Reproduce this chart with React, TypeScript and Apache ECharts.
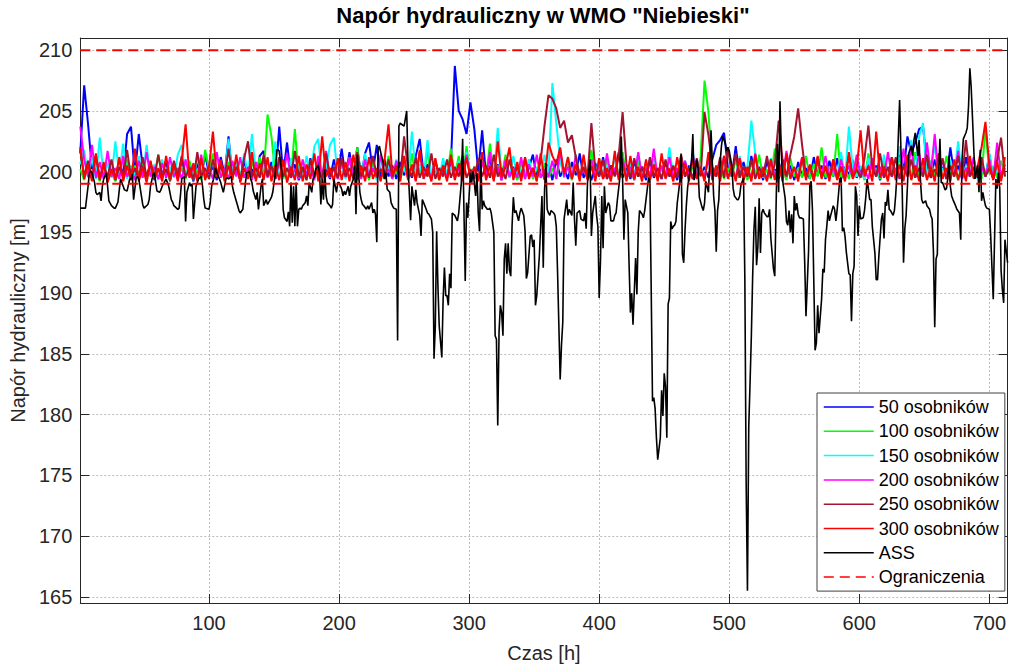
import React, { useEffect, useRef } from "react";
import * as echarts from "echarts";

const TITLE = 'Napór hydrauliczny w WMO "Niebieski"';
const X_NAME = "Czas [h]";
const Y_NAME = "Napór hydrauliczny [m]";
const X_MIN = 1;
const X_MAX = 714;
const Y_MIN = 164.5;
const Y_MAX = 211;
const SAMPLE_START = 1;
const SAMPLE_STEP = 3;

const SERIES_NAMES = ["50 osobników", "100 osobników", "150 osobników", "200 osobników", "250 osobników", "300 osobników", "ASS"];
const LIMIT_NAME = "Ograniczenia";
const LIMIT_UPPER = 210;
const LIMIT_LOWER = 199;

const S50 = [
  201.5, 207.1, 203.9, 200.2, 201.3, 199.4, 200.6, 199.2, 200.1, 199.3, 201.0, 199.6, 203.1, 203.7, 199.8, 203.1, 200.4, 199.5, 200.8, 199.3, 200.2, 199.7, 200.9, 199.2,
  200.5, 199.4, 201.1, 199.6, 200.3, 199.2, 200.7, 199.5, 201.4, 199.8, 200.4, 199.3, 201.2, 199.7, 202.9, 199.5, 200.6, 199.3, 200.9, 199.6, 200.2, 199.4, 201.3, 201.7,
  199.6, 200.8, 199.4, 203.7, 199.8, 202.4, 199.5, 200.6, 199.3, 200.2, 199.7, 201.1, 199.5, 200.8, 199.6, 200.3, 199.4, 201.0, 199.7, 201.9, 199.5, 201.6, 199.8, 202.0,
  199.6, 201.5, 202.4, 200.0, 202.2, 199.5, 201.0, 199.6, 200.5, 199.4, 200.8, 199.7, 200.3, 199.5, 201.3, 202.7, 199.8, 200.6, 199.4, 200.9, 199.6, 200.2, 199.5, 200.7,
  208.7, 205.0, 204.3, 203.1, 205.7, 203.5, 200.0, 203.4, 199.7, 201.1, 199.5, 200.6, 199.3, 201.2, 199.6, 200.4, 199.4, 200.9, 199.7, 200.3, 201.4, 199.5, 200.2, 199.4,
  200.6, 199.3, 201.0, 199.6, 200.3, 199.4, 200.8, 199.7, 201.5, 199.5, 200.2, 199.3, 200.7, 199.6, 201.2, 199.4, 200.5, 199.7, 201.6, 199.5, 200.3, 199.4, 200.9, 199.6,
  200.4, 199.3, 201.0, 199.5, 200.2, 199.4, 200.8, 199.6, 200.3, 199.3, 201.2, 199.6, 200.5, 199.4, 200.9, 199.7, 200.4, 199.5, 201.0, 202.2, 202.6, 203.2, 200.3, 199.6,
  202.1, 199.5, 200.8, 199.4, 201.3, 199.6, 200.4, 199.3, 200.9, 199.7, 200.2, 199.4, 201.0, 199.6, 200.5, 199.3, 200.8, 199.6, 200.3, 199.4, 201.2, 199.7, 200.5, 199.4,
  200.9, 199.6, 201.1, 199.4, 200.4, 199.7, 200.8, 199.5, 200.2, 199.4, 201.0, 199.6, 200.5, 199.3, 200.7, 199.6, 201.2, 199.5, 201.8, 200.0, 202.9, 201.5, 202.4, 203.5,
  203.7, 200.6, 199.5, 201.0, 199.6, 200.4, 199.4, 202.0, 199.7, 200.5, 199.4, 201.2, 199.6, 200.3, 199.5, 200.8, 199.6, 201.4, 199.5, 200.2, 199.4, 200.6,
];

const S100 = [
  200.2, 199.3, 200.8, 199.5, 200.1, 199.2, 200.6, 199.4, 199.9, 199.2, 200.4, 199.6, 201.0, 199.3, 200.5, 199.8, 200.9, 199.4, 200.3, 199.6, 201.4, 199.5, 200.2, 199.3,
  200.7, 199.5, 200.3, 199.4, 200.9, 199.6, 200.2, 199.3, 201.8, 200.2, 201.5, 199.6, 200.4, 199.3, 200.8, 199.5, 201.1, 199.6, 200.3, 199.4, 200.9, 199.6, 201.2, 199.5,
  204.7, 202.9, 199.7, 200.6, 199.4, 200.2, 199.6, 203.5, 199.5, 200.4, 199.3, 200.8, 199.6, 200.2, 199.4, 201.0, 199.6, 200.3, 199.4, 200.7, 199.5, 201.2, 199.6, 202.0,
  199.5, 200.4, 199.3, 200.9, 199.6, 200.2, 199.4, 201.3, 199.5, 200.1, 199.3, 200.6, 199.6, 201.5, 199.4, 200.3, 199.6, 201.7, 199.5, 200.2, 199.3, 200.8, 199.6, 201.9,
  199.6, 201.3, 199.5, 202.1, 199.6, 200.4, 199.3, 200.9, 199.6, 202.3, 199.4, 200.5, 199.6, 201.4, 199.5, 200.2, 199.3, 200.8, 199.6, 201.0, 199.4, 200.3, 199.6, 200.7,
  199.5, 200.3, 199.4, 201.2, 199.6, 200.6, 199.3, 201.4, 199.6, 200.2, 199.4, 201.8, 199.5, 200.4, 199.6, 201.1, 199.4, 200.3, 199.6, 201.6, 199.5, 200.2, 199.3, 200.9,
  199.6, 200.4, 199.4, 201.0, 199.6, 200.3, 199.5, 201.3, 199.6, 200.2, 199.4, 200.8, 199.6, 200.4, 199.5, 201.2, 207.5, 204.9, 200.1, 199.6, 200.7, 199.4, 200.3, 199.6,
  201.0, 199.5, 200.4, 199.3, 200.8, 199.6, 201.4, 199.5, 200.2, 199.4, 201.9, 199.6, 200.5, 199.3, 201.1, 199.6, 200.3, 199.5, 201.3, 199.4, 200.6, 199.6, 202.0, 199.5,
  200.4, 199.6, 203.1, 199.5, 200.3, 199.4, 201.0, 199.6, 200.4, 199.3, 201.5, 199.6, 200.2, 199.4, 200.9, 199.6, 200.3, 199.5, 201.2, 199.6, 200.5, 199.4, 201.6, 199.6,
  200.3, 199.5, 200.9, 199.6, 200.2, 199.4, 201.3, 199.6, 200.5, 199.3, 200.8, 199.6, 201.0, 199.5, 200.3, 199.4, 203.7, 199.8, 200.4, 199.5, 200.9, 199.6,
];

const S150 = [
  200.6, 201.8, 199.5, 201.2, 199.4, 202.8, 199.6, 200.7, 199.5, 202.5, 199.8, 202.3, 199.4, 200.5, 199.6, 201.3, 199.5, 202.2, 199.7, 200.6, 199.3, 201.0, 199.6, 200.4,
  199.5, 201.4, 202.2, 199.6, 200.5, 199.3, 201.2, 199.6, 200.3, 199.4, 201.0, 199.7, 200.4, 199.5, 202.7, 199.6, 200.8, 199.4, 201.5, 199.6, 203.1, 199.8, 200.6, 199.4,
  200.9, 199.5, 202.5, 199.6, 200.4, 199.3, 201.1, 199.6, 200.5, 199.4, 201.3, 199.6, 202.1, 202.7, 199.5, 200.3, 202.2, 202.8, 199.6, 200.6, 199.4, 201.0, 199.6, 200.3,
  199.5, 201.5, 199.6, 200.4, 199.3, 201.2, 199.6, 200.5, 199.4, 201.0, 199.6, 200.3, 199.5, 203.3, 199.8, 200.6, 199.4, 202.6, 199.6, 200.3, 199.5, 201.1, 199.6, 200.4,
  199.4, 200.9, 199.6, 201.6, 199.5, 200.4, 199.3, 201.2, 199.6, 200.5, 199.4, 203.6, 199.8, 200.6, 199.5, 201.3, 199.6, 200.2, 199.4, 201.0, 199.6, 200.4, 199.5, 201.4,
  199.6, 207.3, 204.0, 200.9, 199.5, 201.2, 199.6, 200.4, 199.4, 201.0, 199.6, 200.3, 199.5, 201.1, 199.6, 200.5, 199.4, 201.3, 199.6, 200.2, 199.5, 200.8, 199.6, 201.5,
  199.5, 200.3, 199.4, 201.0, 199.6, 200.4, 199.5, 202.0, 199.6, 200.3, 199.4, 200.9, 199.6, 201.6, 199.5, 200.4, 199.6, 201.2, 199.4, 200.5, 199.6, 201.0, 199.5, 200.3,
  199.6, 201.3, 199.5, 200.4, 204.2, 201.5, 199.6, 200.3, 199.4, 201.1, 199.6, 200.5, 199.5, 201.4, 199.6, 200.2, 199.4, 200.9, 199.6, 200.4, 199.5, 201.2, 199.6, 200.3,
  199.5, 200.9, 199.6, 201.6, 199.4, 203.7, 200.2, 199.6, 200.5, 199.4, 201.1, 199.6, 200.3, 199.5, 201.4, 199.6, 200.4, 199.5, 202.1, 199.6, 200.5, 202.6, 199.6, 202.9,
  204.0, 199.7, 200.5, 202.1, 199.6, 200.3, 199.5, 201.0, 199.6, 202.5, 199.5, 200.4, 199.6, 201.1, 199.4, 200.3, 199.6, 201.5, 199.5, 200.2, 199.6, 200.8,
];

const S200 = [
  203.7, 201.0, 199.6, 202.2, 199.5, 200.8, 199.4, 201.7, 199.6, 200.3, 199.4, 201.3, 199.6, 200.2, 199.3, 200.9, 199.5, 201.6, 199.6, 200.4, 199.4, 200.7, 199.5, 201.2,
  199.6, 200.3, 199.4, 201.0, 199.5, 200.4, 199.3, 201.4, 199.6, 200.2, 199.4, 201.6, 199.5, 200.3, 199.4, 200.9, 199.6, 201.2, 199.5, 200.4, 199.3, 200.8, 199.6, 201.1,
  199.5, 200.3, 199.4, 200.9, 199.6, 201.5, 199.5, 200.2, 199.4, 201.0, 199.6, 200.4, 199.3, 201.3, 199.6, 201.7, 199.5, 200.3, 199.4, 200.8, 199.6, 201.2, 199.5, 200.4,
  199.4, 201.0, 199.6, 200.3, 199.5, 201.4, 199.6, 200.2, 199.4, 200.9, 199.6, 201.1, 199.5, 200.4, 199.3, 201.6, 199.6, 200.3, 199.4, 201.0, 199.6, 200.5, 199.4, 201.2,
  199.5, 200.3, 199.6, 201.4, 199.5, 200.2, 199.4, 200.8, 199.6, 201.6, 199.5, 200.4, 199.3, 201.0, 199.6, 200.3, 199.5, 201.2, 199.4, 200.6, 199.6, 201.4, 199.5, 200.2,
  199.6, 200.9, 199.4, 201.8, 199.6, 200.4, 199.5, 201.3, 199.6, 200.2, 199.4, 201.0, 199.6, 200.5, 199.4, 201.5, 199.6, 200.3, 199.5, 201.1, 199.6, 200.4, 199.3, 201.6,
  199.5, 200.3, 199.6, 201.9, 199.4, 200.5, 199.6, 201.2, 199.5, 200.3, 199.4, 200.9, 199.6, 201.4, 199.5, 200.2, 199.6, 201.0, 199.4, 200.4, 199.6, 201.3, 199.5, 200.2,
  199.4, 201.1, 199.6, 200.3, 199.5, 201.5, 199.6, 200.4, 199.3, 201.0, 199.6, 200.5, 199.4, 201.7, 199.6, 200.3, 199.5, 201.2, 199.6, 200.4, 199.4, 200.9, 199.6, 201.3,
  199.5, 200.3, 199.4, 201.0, 199.6, 200.5, 199.5, 201.4, 199.6, 200.2, 199.4, 201.1, 199.6, 200.4, 199.5, 201.6, 199.6, 200.3, 199.4, 201.9, 199.6, 202.2, 199.5, 201.5,
  199.6, 202.4, 199.8, 203.1, 199.6, 201.0, 199.5, 200.4, 199.6, 201.7, 199.4, 200.3, 199.6, 201.2, 199.5, 200.4, 199.6, 201.0, 199.4, 202.4, 199.6, 200.3,
];

const S250 = [
  202.0, 199.6, 200.9, 199.5, 201.3, 199.4, 200.5, 199.6, 201.0, 199.3, 200.4, 199.6, 201.8, 199.5, 200.3, 199.4, 201.2, 199.6, 200.6, 199.5, 201.4, 199.6, 200.2, 199.4,
  200.9, 199.6, 201.3, 199.5, 200.4, 199.3, 201.6, 199.6, 200.3, 199.4, 201.0, 199.6, 200.5, 199.5, 201.9, 199.6, 200.4, 199.3, 201.1, 202.5, 199.6, 200.3, 199.5, 201.4,
  199.6, 200.5, 199.4, 201.2, 199.6, 200.3, 199.5, 201.7, 199.6, 200.4, 199.3, 201.0, 199.6, 200.2, 199.4, 201.5, 199.6, 200.4, 199.5, 201.1, 199.6, 200.3, 199.4, 201.6,
  199.6, 200.4, 199.5, 201.3, 199.6, 200.2, 199.4, 201.0, 199.6, 200.5, 199.5, 202.9, 200.3, 199.6, 201.2, 199.5, 200.4, 199.6, 201.5, 199.4, 200.3, 199.6, 201.0, 199.5,
  200.4, 199.6, 201.3, 199.5, 200.2, 199.4, 201.1, 199.6, 200.5, 199.5, 201.4, 199.6, 200.3, 199.4, 201.0, 199.6, 200.4, 199.5, 201.2, 199.6, 200.3, 199.4, 200.9, 203.8,
  206.3, 206.0, 205.2, 203.6, 204.2, 202.4, 203.0, 201.2, 199.6, 200.4, 199.5, 204.0, 200.2, 199.6, 201.0, 199.4, 200.5, 199.6, 201.3, 204.9, 200.6, 199.5, 201.1, 199.6,
  200.4, 199.5, 201.2, 199.6, 200.3, 199.4, 201.0, 199.6, 200.5, 199.5, 201.4, 199.6, 200.3, 199.4, 201.1, 199.6, 204.9, 203.0, 200.4, 199.6, 201.2, 199.5, 202.0, 199.6,
  201.5, 199.5, 200.4, 199.6, 201.0, 199.4, 200.3, 199.6, 201.3, 199.5, 200.6, 204.2, 200.9, 199.6, 201.4, 202.9, 205.2, 202.2, 199.6, 200.5, 199.4, 201.2, 199.6, 200.3,
  199.5, 201.0, 199.6, 200.4, 199.4, 201.3, 199.6, 200.2, 199.5, 201.1, 203.8, 200.3, 199.6, 201.5, 199.5, 200.4, 199.6, 201.2, 199.4, 200.5, 199.6, 201.0, 199.5, 200.3,
  199.6, 201.4, 199.5, 200.2, 199.6, 201.1, 199.4, 200.5, 199.6, 201.3, 199.5, 202.6, 199.6, 200.4, 199.5, 201.2, 199.6, 200.3, 199.4, 201.0, 202.8, 199.6,
];

const S300 = [
  201.8, 199.4, 200.6, 199.2, 201.5, 199.3, 200.8, 199.1, 200.2, 199.4, 201.2, 199.2, 200.5, 199.3, 201.9, 199.2, 200.4, 199.1, 200.9, 199.4, 200.3, 199.2, 201.3, 199.3,
  200.6, 199.2, 200.9, 203.9, 199.5, 200.7, 199.2, 201.1, 199.3, 200.4, 203.3, 199.6, 201.0, 199.2, 200.5, 199.3, 201.4, 199.1, 200.3, 199.4, 201.6, 199.2, 200.7, 199.3,
  201.2, 199.2, 200.5, 199.3, 201.0, 199.1, 200.4, 199.3, 201.3, 199.2, 200.6, 199.4, 201.5, 199.2, 202.9, 199.6, 200.3, 199.2, 201.1, 199.3, 200.8, 199.2, 201.4, 199.3,
  200.5, 199.2, 201.2, 199.4, 200.3, 199.2, 201.0, 203.9, 199.7, 200.4, 199.2, 201.3, 199.3, 200.6, 199.2, 201.8, 199.4, 200.3, 199.2, 201.1, 199.3, 200.5, 199.2, 201.4,
  199.3, 200.7, 199.2, 201.2, 199.4, 200.4, 199.2, 201.6, 199.3, 200.5, 199.2, 202.5, 199.5, 200.4, 202.0, 199.3, 200.8, 199.2, 201.1, 199.4, 200.3, 199.2, 201.5, 199.3,
  202.4, 201.3, 200.6, 202.0, 199.8, 201.2, 199.4, 200.6, 199.2, 201.4, 199.3, 200.5, 199.2, 201.1, 199.4, 200.3, 199.2, 201.7, 199.3, 200.8, 199.2, 201.3, 199.4, 200.4,
  199.2, 201.0, 199.3, 200.6, 199.2, 201.5, 199.4, 200.3, 199.2, 201.2, 199.3, 200.7, 199.2, 201.0, 199.4, 200.4, 199.2, 201.6, 199.3, 200.5, 199.2, 201.3, 199.4, 200.6,
  199.2, 201.1, 199.3, 200.4, 199.2, 201.4, 199.4, 200.3, 199.2, 201.0, 199.3, 200.8, 199.2, 201.5, 199.4, 200.4, 199.2, 201.2, 199.3, 200.6, 199.2, 201.3, 199.4, 200.5,
  199.2, 201.0, 199.3, 200.4, 199.2, 201.6, 199.4, 200.3, 203.4, 199.6, 200.5, 199.2, 203.3, 199.5, 200.4, 199.2, 201.2, 199.3, 200.6, 199.2, 201.4, 199.3, 200.5, 199.2,
  201.1, 199.3, 200.4, 199.2, 201.5, 199.4, 200.3, 199.2, 201.0, 199.3, 200.6, 199.2, 201.3, 199.4, 200.4, 202.0, 204.1, 200.5, 199.3, 200.8, 199.2, 201.2,
];

const ASS_HOURS = [
  1, 5, 7, 8, 9, 10, 12, 13, 14, 16, 17, 18, 19, 21, 22, 23, 25, 27, 28, 30, 31, 32, 34, 35, 37, 39, 40, 41, 42, 44, 45, 46, 48, 49, 50, 53, 54, 55, 57, 58, 59, 60,
  62, 63, 64, 65, 67, 68, 69, 71, 72, 73, 76, 77, 78, 79, 81, 82, 83, 85, 86, 87, 88, 90, 91, 92, 94, 95, 96, 97, 100, 101, 102, 104, 105, 106, 108, 109, 111, 113,
  114, 115, 117, 118, 119, 122, 123, 124, 126, 127, 128, 129, 131, 132, 133, 134, 136, 137, 138, 140, 141, 142,
  143, 144, 145, 147, 148, 149, 151, 152, 153, 154, 156, 157, 158, 160, 161, 162, 163, 164, 165, 166, 167, 168, 169, 170, 171, 172, 174, 175, 176, 177, 179, 180,
  181, 182, 184, 185, 186, 187, 188, 189, 190, 191, 193, 194, 195, 196, 198, 199, 200, 202, 203, 204, 205, 207, 208, 209, 211, 212, 213, 214, 216, 217, 218, 219,
  221, 222, 223, 225, 226, 227, 228, 229, 230, 231, 232, 234, 235, 236, 237, 239, 240, 241, 242, 244, 245, 246, 247, 248, 250, 252, 253, 255, 256, 258, 259, 260,
  262, 263, 264, 265, 267, 268, 269, 271, 272, 273, 274, 275, 276, 277, 279, 280, 281, 282, 283,
  284, 285, 286, 287, 289, 291, 292, 294, 295, 297, 298, 299, 301, 302, 303, 305, 306, 307, 308, 309, 310, 311, 312, 314, 315, 316, 317, 319, 320, 321, 322, 323,
  324, 325, 326, 327, 328, 329, 330, 331, 332, 333, 334, 335, 336, 338, 339, 340, 342, 343, 344, 345, 347, 348, 349, 350, 351, 352, 354, 355, 356, 357, 358, 359,
  360, 361, 362, 363, 365, 366, 367, 368, 370, 371, 372, 373, 375, 376, 377, 379, 380, 381, 382, 383, 385, 386, 388, 389, 390, 391, 393, 394, 395, 397, 398, 399,
  400, 401, 402, 403, 404, 405, 407, 408, 409, 411, 412, 413, 414, 416, 417, 418, 419, 420, 422, 423, 424, 425, 426,
  428, 429, 430, 431, 433, 434, 435, 437, 438, 439, 440, 441, 442, 443, 444, 445, 447, 448, 449, 450, 451, 452, 453, 454, 455, 456, 457, 458, 459, 460, 462, 463,
  464, 465, 466, 467, 468, 470, 471, 472, 473, 474, 475, 476, 477, 479, 480, 481, 482, 484, 485, 486, 488, 489, 490, 491, 492, 493, 494, 495, 497, 498, 499, 500,
  502, 503, 504, 506, 507, 508, 509, 511, 512, 513, 514, 515, 516, 517, 518, 519, 520, 521, 522, 523, 524, 525, 526, 527, 529, 530, 531, 532, 534, 535, 536, 537,
  538, 539, 540, 541, 543, 544, 545, 546, 547, 548, 549, 550, 551, 552, 553, 554, 555, 557, 558, 559, 561, 562, 563, 564, 566, 567, 568, 569,
  571, 572, 573, 574, 575, 576, 577, 578, 580, 581, 582, 583, 585, 586, 587, 588, 589, 590, 592, 593, 594, 595, 596, 597, 598, 599, 600, 601, 603, 604, 605, 606,
  608, 609, 610, 612, 613, 614, 615, 617, 618, 619, 620, 621, 622, 623, 624, 626, 627, 628, 629, 630, 631, 632, 633, 634, 635, 636, 637, 638, 640, 641, 642, 643,
  645, 646, 647, 648, 649, 651, 652, 654, 655, 656, 657, 658, 659, 660, 661, 662, 663, 664, 666, 667, 668, 669, 670, 671, 672, 673, 674, 675, 677, 678, 679, 680,
  682, 683, 684, 685, 686, 687, 688, 689, 691, 692, 693, 694, 695, 696, 697, 698, 700, 701, 702, 703, 705, 706, 707, 708, 709, 710, 711, 712, 714,
];

const ASS_VALUES = [
  197.0, 197.0, 198.8, 199.9, 200.05, 199.9, 199.1, 198.3, 198.1, 198.3, 197.6, 198.8, 199.4, 199.9, 198.8, 197.6, 197.2, 197.0, 197.0, 197.5, 198.5, 199.4, 198.8, 198.5, 198.4, 199.4, 199.4, 199.8, 197.7, 199.5, 199.6, 199.4, 198.0, 197.3, 197.0, 197.3, 197.7, 198.8, 199.8, 199.9, 199.1, 198.4,
  198.3, 198.5, 198.8, 199.0, 199.4, 199.1, 198.8, 197.7, 197.5, 197.2, 196.9, 197.0, 198.0, 199.4, 199.6, 195.9, 198.3, 199.1, 198.8, 199.0, 196.1, 198.8, 199.1, 199.4, 199.6, 198.8, 197.7, 197.0, 196.9, 197.5, 198.8, 199.6, 200.3, 199.9, 199.4, 199.1, 198.3, 199.4,
  199.5, 199.4, 199.6, 198.8, 198.3, 197.2, 196.8, 196.6, 196.9, 198.0, 199.1, 199.9, 200.05, 199.4, 199.1, 198.4, 197.7, 198.3, 196.9, 198.8, 199.4, 197.2,
  197.45, 197.7, 197.3, 197.7, 197.9, 198.3, 199.9, 201.8, 201.8, 201.7, 199.9, 196.9, 196.2, 195.9, 196.7, 195.5, 199.1, 195.8, 198.8, 195.5, 199.1, 195.5, 196.9, 197.0, 196.9, 197.2, 197.45, 198.0, 197.2, 199.1, 198.3, 199.4,
  199.6, 200.2, 200.5, 199.9, 197.3, 199.4, 197.7, 200.2, 198.0, 197.45, 197.2, 197.0, 197.3, 199.4, 198.3, 199.1, 199.1, 198.55, 198.0, 198.4, 198.1, 198.8, 198.0, 198.8, 199.4, 200.5, 196.5, 201.4, 198.3, 197.7, 197.3, 197.2,
  196.9, 197.2, 196.9, 197.45, 196.6, 196.9, 196.5, 194.2, 201.8, 202.1, 201.6, 200.7, 199.4, 199.9, 198.55, 198.3, 197.45, 197.2, 197.0, 196.9, 186.1, 203.75, 204.0, 203.9, 203.75, 205.0, 200.5, 196.0, 198.8, 197.2, 198.5, 197.45,
  196.4, 194.7, 197.7, 197.45, 196.9, 196.6, 196.5, 196.1, 195.0, 184.6, 187.3, 195.1, 190.6, 187.3, 184.7, 189.5, 192.1, 189.8, 189.8,
  189.0, 191.6, 190.4, 196.6, 196.4, 195.95, 196.6, 199.1, 202.7, 191.0, 197.45, 196.2, 199.9, 199.1, 200.05, 198.0, 199.9, 196.6, 195.1, 201.0, 196.9, 197.6, 197.2, 196.9, 196.9, 197.0, 196.6, 195.0, 186.5, 186.2, 179.1, 186.8,
  189.0, 188.4, 186.5, 192.8, 194.1, 191.6, 194.1, 191.9, 191.4, 195.5, 197.9, 196.6, 196.8, 195.95, 196.6, 197.0, 196.4, 195.1, 191.2, 191.7, 194.7, 194.8, 193.8, 194.4, 189.0, 189.8, 193.1, 195.6, 198.0, 192.1, 198.5, 200.7,
  196.9, 196.6, 196.4, 196.8, 196.6, 196.4, 195.5, 191.7, 182.9, 185.7, 187.6, 196.1, 197.7, 196.4, 196.9, 196.4, 199.1, 196.1, 193.9, 196.6, 196.8, 196.1, 195.95, 196.6, 195.3, 199.1, 201.0, 194.7, 196.6, 198.0, 196.4, 195.5,
  189.6, 192.7, 198.0, 193.7, 198.8, 196.6, 197.45, 197.2, 195.95, 195.95, 196.4, 196.6, 197.7, 199.6, 202.9, 199.4, 194.4, 197.7, 196.6, 192.3, 188.4, 190.0, 187.4,
  192.9, 189.9, 195.0, 196.8, 196.5, 196.2, 196.8, 198.6, 199.5, 199.2, 190.2, 181.1, 181.4, 180.5, 178.1, 176.3, 178.1, 182.0, 179.9, 183.4, 182.3, 178.1, 189.1, 189.6, 195.9, 195.3, 195.5, 195.6, 195.9, 197.4, 199.2, 201.5,
  193.2, 192.5, 195.2, 197.2, 198.7, 200.2, 200.8, 203.1, 199.3, 200.0, 201.0, 200.3, 197.9, 197.1, 196.8, 197.4, 199.2, 198.3, 200.8, 203.4, 198.0, 196.8, 193.4, 196.8, 197.7, 200.8, 202.1, 202.9, 202.3, 201.7, 202.0, 201.7,
  200.5, 198.6, 198.0, 197.7, 197.7, 198.0, 198.9, 199.5, 191.1, 174.4, 165.5, 179.0, 182.6, 186.5, 191.4, 195.3, 197.1, 192.3, 193.8, 197.8, 193.3, 196.6, 196.9, 196.6, 196.3, 196.3, 196.9, 194.5, 192.0, 191.4, 197.1, 202.3,
  198.3, 205.8, 201.7, 199.3, 197.8, 195.9, 195.6, 196.8, 195.0, 196.5, 194.1, 198.0, 196.8, 197.4, 196.5, 196.2, 196.2, 196.1, 192.6, 188.1, 193.5, 199.0, 199.2, 196.8, 185.3, 185.9, 189.0, 186.7,
  189.5, 192.0, 191.7, 194.4, 195.5, 196.8, 195.95, 196.4, 197.2, 196.9, 195.95, 196.9, 199.4, 199.5, 195.1, 195.4, 194.7, 193.4, 191.6, 191.5, 187.7, 191.6, 192.2, 198.8, 198.0, 194.7, 197.2, 196.1, 196.2, 196.8, 197.9, 199.4,
  197.7, 197.7, 195.5, 193.3, 191.1, 191.1, 193.0, 196.1, 196.6, 194.5, 197.5, 197.2, 198.5, 196.9, 196.8, 196.4, 196.8, 198.1, 199.9, 202.9, 205.9, 201.8, 198.5, 192.5, 195.3, 196.4, 198.8, 201.5, 202.1, 201.3, 202.6, 203.2,
  201.3, 202.6, 199.3, 197.7, 197.4, 197.6, 197.2, 196.9, 196.4, 196.1, 193.4, 187.2, 192.8, 193.2, 199.9, 202.7, 199.1, 199.1, 198.5, 198.6, 199.4, 201.3, 198.8, 198.0, 197.7, 197.45, 197.2, 196.9, 196.6, 194.4, 201.0, 202.7,
  203.2, 203.6, 205.4, 208.5, 207.0, 204.5, 201.9, 199.4, 200.5, 198.3, 201.8, 197.6, 198.3, 197.7, 197.2, 197.0, 196.9, 194.8, 192.1, 189.5, 199.4, 198.6, 199.9, 198.6, 191.9, 190.3, 189.2, 194.4, 192.5,
];

const COLORS = ["#0000FF", "#00FF00", "#00FFFF", "#FF00FF", "#A2142F", "#FF0000", "#000000"];
const FONT = "'Liberation Sans', Arial, Helvetica, sans-serif";
const TEXT_COLOR = "#262626";

function sampled(values: number[]) {
  return values.map((v, i) => [SAMPLE_START + i * SAMPLE_STEP, v]);
}

export default function App() {
  const ref = useRef<HTMLDivElement>(null);
  useEffect(() => {
    if (!ref.current) return;
    const chart = echarts.init(ref.current, undefined, { renderer: "svg" });
    const colored = [S50, S100, S150, S200, S250, S300];
    const series: any[] = colored.map((vals, k) => ({
      name: SERIES_NAMES[k],
      type: "line",
      symbol: "none",
      showSymbol: false,
      data: sampled(vals),
      lineStyle: { color: COLORS[k], width: 2 },
      itemStyle: { color: COLORS[k] },
      z: 2 + k,
    }));
    series.push({
      name: SERIES_NAMES[6],
      type: "line",
      symbol: "none",
      showSymbol: false,
      data: ASS_HOURS.map((h, i) => [h, ASS_VALUES[i]]),
      lineStyle: { color: COLORS[6], width: 1.6 },
      itemStyle: { color: COLORS[6] },
      z: 10,
    });
    [LIMIT_UPPER, LIMIT_LOWER].forEach((lim) => {
      series.push({
        name: LIMIT_NAME,
        type: "line",
        symbol: "none",
        showSymbol: false,
        data: [[X_MIN, lim], [X_MAX, lim]],
        lineStyle: { color: "#FF0000", width: 2, type: [10, 6] },
        itemStyle: { color: "#FF0000" },
        z: 11,
      });
    });

    const axisCommon = {
      axisLine: { show: true, lineStyle: { color: TEXT_COLOR, width: 1 } },
      axisTick: { show: true, inside: true, length: 9, lineStyle: { color: TEXT_COLOR, width: 1 } },
    };

    chart.setOption({
      animation: false,
      backgroundColor: "#ffffff",
      title: {
        text: TITLE,
        left: 543,
        textAlign: "center",
        top: 4,
        padding: 0,
        textStyle: { fontSize: 22, fontWeight: "bold", color: "#000", fontFamily: FONT },
      },
      grid: { left: 78, right: 1, top: 38, bottom: 64, containLabel: false },
      legend: {
        data: [...SERIES_NAMES, LIMIT_NAME],
        orient: "vertical",
        left: 817,
        top: 393,
        itemWidth: 50,
        itemHeight: 18,
        itemGap: 6.3,
        padding: [5, 6, 5, 6],
        backgroundColor: "#ffffff",
        borderColor: "#404040",
        borderWidth: 1,
        borderRadius: 0,
        itemStyle: { opacity: 0, borderWidth: 0 },
        lineStyle: { width: 1.5 },
        textStyle: { fontSize: 18, color: "#000", fontFamily: FONT },
        selectedMode: false,
      },
      xAxis: [
        {
          type: "value",
          min: X_MIN,
          max: X_MAX,
          splitNumber: 7,
          minInterval: 100,
          maxInterval: 100,
          position: "bottom",
          name: X_NAME,
          nameLocation: "middle",
          nameGap: 40,
          nameTextStyle: { fontSize: 20, color: TEXT_COLOR, fontFamily: FONT },
          ...axisCommon,
          axisLabel: { fontSize: 20, color: TEXT_COLOR, fontFamily: FONT, margin: 10, showMinLabel: false, showMaxLabel: false },
          splitLine: { show: true, lineStyle: { color: "#bdbdbd", type: [2, 2], width: 1 } },
        },
        {
          type: "value",
          min: X_MIN,
          max: X_MAX,
          splitNumber: 7,
          minInterval: 100,
          maxInterval: 100,
          position: "top",
          ...axisCommon,
          axisLabel: { show: false },
          splitLine: { show: false },
        },
      ],
      yAxis: [
        {
          type: "value",
          min: Y_MIN,
          max: Y_MAX,
          splitNumber: 9,
          minInterval: 5,
          maxInterval: 5,
          position: "left",
          name: Y_NAME,
          nameLocation: "middle",
          nameGap: 47,
          nameTextStyle: { fontSize: 20, color: TEXT_COLOR, fontFamily: FONT },
          ...axisCommon,
          axisLabel: { fontSize: 20, color: TEXT_COLOR, fontFamily: FONT, margin: 8, showMinLabel: false, showMaxLabel: false },
          splitLine: { show: true, lineStyle: { color: "#bdbdbd", type: [2, 2], width: 1 } },
        },
        {
          type: "value",
          min: Y_MIN,
          max: Y_MAX,
          splitNumber: 9,
          minInterval: 5,
          maxInterval: 5,
          position: "right",
          ...axisCommon,
          axisLabel: { show: false },
          splitLine: { show: false },
        },
      ],
      series,
    });
    return () => chart.dispose();
  }, []);
  return <div ref={ref} style={{ position: "absolute", left: 0, top: 0, width: 1009, height: 668 }} />;
}
